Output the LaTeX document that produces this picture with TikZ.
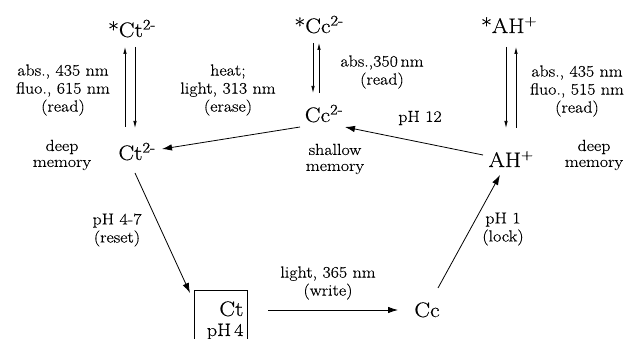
\documentclass[tikz,border=0pt]{standalone}
\usepackage{fontspec}
\setmainfont{Latin Modern Roman}[FakeStretch=1.12, FakeBold=0.4]
\usetikzlibrary{arrows.meta}
\begin{document}
\begin{tikzpicture}[x=1pt,y=-1pt,
  species/.style={font=\fontsize{21}{24}\selectfont, anchor=base, inner sep=0pt},
  lbl/.style={font=\fontsize{16}{18}\selectfont, inner sep=0pt, align=center},
  mem/.style={font=\fontsize{16}{16}\selectfont, inner sep=0pt, align=center},
  main/.style={line width=0.8pt, -{Latex[length=10pt,width=6.5pt]}},
  vert/.style={line width=0.7pt, -{Latex[length=7pt,width=3.5pt]}}]
\useasboundingbox (0,0) rectangle (632,339);
% species
\node[species] (sct) at (132,37) {*Ct\textsuperscript{2-}};
\node[species] (scc) at (319,33) {*Cc\textsuperscript{2-}};
\node[species] (sah) at (509,33) {*AH\textsuperscript{+}};
\node[species] (ct) at (137,160) {Ct\textsuperscript{2-}};
\node[species] (cc2) at (324,122) {Cc\textsuperscript{2-}};
\node[species] (ah) at (511,167) {AH\textsuperscript{+}};
\node[species] (cc) at (427,317) {Cc};
\node[draw, line width=0.8pt, minimum width=53pt, minimum height=60pt, inner sep=4pt,
      align=right, text width=45pt, anchor=north west, font=\fontsize{21}{22}\selectfont]
      (box) at (194,290) {Ct\\[-2pt]{\fontsize{18}{20}\selectfont pH\,4}};
% arrow end points
\coordinate (a1) at (125,127); \coordinate (a2) at (125,47);
\coordinate (b1) at (135,47);  \coordinate (b2) at (135,128);
\coordinate (c1) at (313,43);  \coordinate (c2) at (313,93);
\coordinate (d1) at (319,93);  \coordinate (d2) at (319,43);
\coordinate (e1) at (506,47);  \coordinate (e2) at (506,128);
\coordinate (f1) at (516,128); \coordinate (f2) at (516,47);
\coordinate (g1) at (300,127); \coordinate (g2) at (162,149);
\coordinate (h1) at (483,155); \coordinate (h2) at (345,127);
\coordinate (i1) at (135,173); \coordinate (i2) at (190,293);
\coordinate (j1) at (268,310); \coordinate (j2) at (398,310);
\coordinate (k1) at (438,288); \coordinate (k2) at (500,175);
% arrows
\draw[vert] (a1) -- (a2);
\draw[vert] (b1) -- (b2);
\draw[vert] (c1) -- (c2);
\draw[vert] (d1) -- (d2);
\draw[vert] (e1) -- (e2);
\draw[vert] (f1) -- (f2);
\draw[main] (g1) -- (g2);
\draw[main] (h1) -- (h2);
\draw[main] (i1) -- (i2);
\draw[main] (j1) -- (j2);
\draw[main] (k1) -- (k2);
% labels
\node[lbl] (l1) at (63,90) {abs., 435 nm\\fluo., 615 nm\\(read)};
\node[mem] (l2) at (62,155) {deep\\memory};
\node[lbl] (l3) at (228,90) {heat;\\light, 313 nm\\(erase)};
\node[lbl] (l4) at (382,72) {abs.,350\,nm\\(read)};
\node[mem] (l5) at (335,159) {shallow\\memory};
\node[lbl] (l6) at (420,118) {pH 12};
\node[lbl] (l7) at (577,91) {abs., 435 nm\\fluo., 515 nm\\(read)};
\node[mem] (l8) at (594,155) {deep\\memory};
\node[lbl] (l9) at (117,230) {pH 4-7\\(reset)};
\node[lbl] (l10) at (328,283) {light, 365 nm\\(write)};
\node[lbl] (l11) at (503,229) {pH 1\\(lock)};
\end{tikzpicture}
\end{document}
